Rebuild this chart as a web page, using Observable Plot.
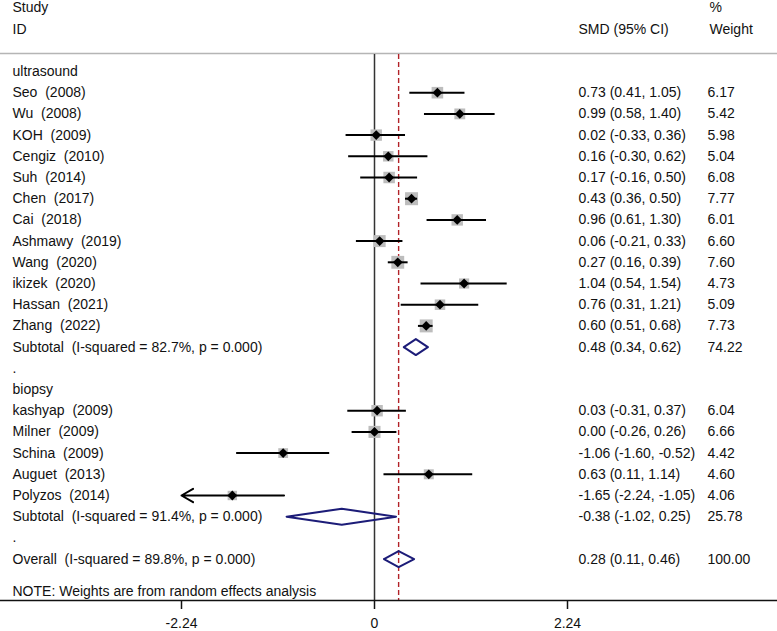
<!DOCTYPE html>
<html><head><meta charset="utf-8">
<script src="https://cdn.jsdelivr.net/npm/d3@7"></script>
<script src="https://cdn.jsdelivr.net/npm/@observablehq/plot@0.6"></script>
<style>
body{margin:0;background:#fff}
svg text{white-space:pre}
</style></head><body><div id="chart"></div>
<script>
// ---- data ----
const usStudy = ["Seo  (2008)","Wu  (2008)","KOH  (2009)","Cengiz  (2010)","Suh  (2014)","Chen  (2017)","Cai  (2018)","Ashmawy  (2019)","Wang  (2020)","ikizek  (2020)","Hassan  (2021)","Zhang  (2022)"];
const usSMD = [0.73,0.99,0.02,0.16,0.17,0.43,0.96,0.06,0.27,1.04,0.76,0.60];
const usLo  = [0.41,0.58,-0.33,-0.30,-0.16,0.36,0.61,-0.21,0.16,0.54,0.31,0.51];
const usHi  = [1.05,1.40,0.36,0.62,0.50,0.50,1.30,0.33,0.39,1.54,1.21,0.68];
const usWeight = [6.17,5.42,5.98,5.04,6.08,7.77,6.01,6.60,7.60,4.73,5.09,7.73];

const bxStudy = ["kashyap  (2009)","Milner  (2009)","Schina  (2009)","Auguet  (2013)","Polyzos  (2014)"];
const bxSMD = [0.03,0.00,-1.06,0.63,-1.65];
const bxLo  = [-0.31,-0.26,-1.60,0.11,-2.24];
const bxHi  = [0.37,0.26,-0.52,1.14,-1.05];
const bxWeight = [6.04,6.66,4.42,4.60,4.06];

const groupNames = ["ultrasound","biopsy"];
const sumLabel = ["Subtotal  (I-squared = 82.7%, p = 0.000)","Subtotal  (I-squared = 91.4%, p = 0.000)","Overall  (I-squared = 89.8%, p = 0.000)"];
const sumSMD = [0.48,-0.38,0.28];
const sumLo  = [0.34,-1.02,0.11];
const sumHi  = [0.62,0.25,0.46];
const sumWeight = [74.22,25.78,100.00];

const headLeft = ["Study","ID"];
const headSMD = ["","SMD (95% CI)"];
const headWeight = ["%","Weight"];
const noteText = ["NOTE: Weights are from random effects analysis"];
const xTicks = [-2.24,0,2.24];

// ---- build rows ----
const rows = [];
function addGroup(name, st, e, lo, hi, w, si){
  rows.push({label:name, type:"head"});
  st.forEach((s,i)=>rows.push({label:s,type:"study",est:e[i],lo:lo[i],hi:hi[i],w:w[i]}));
  rows.push({label:sumLabel[si],type:"sum",est:sumSMD[si],lo:sumLo[si],hi:sumHi[si],w:sumWeight[si],id:si});
  rows.push({label:".",type:"blank"});
}
addGroup(groupNames[0], usStudy, usSMD, usLo, usHi, usWeight, 0);
addGroup(groupNames[1], bxStudy, bxSMD, bxLo, bxHi, bxWeight, 1);
rows.push({label:sumLabel[2],type:"sum",est:sumSMD[2],lo:sumLo[2],hi:sumHi[2],w:sumWeight[2],id:2});
rows.forEach((r,i)=>r.row=i);

const fmt = v => v.toFixed(2);
const valued = rows.filter(r=>r.est!==undefined);
valued.forEach(r=>{ r.ci = `${fmt(r.est)} (${fmt(r.lo)}, ${fmt(r.hi)})`; r.wt = fmt(r.w); });
const studies = rows.filter(r=>r.type==="study");
const xMin = xTicks[0];
const clipped = studies.filter(r=>r.lo<=xMin);
const unclipped = studies.filter(r=>r.lo>xMin);
const sums = rows.filter(r=>r.type==="sum");
const h = 8/21.2;
const diamonds = sums.flatMap(r=>[
  {id:r.id,x:r.lo,y:r.row},{id:r.id,x:r.est,y:r.row-h},{id:r.id,x:r.hi,y:r.row},{id:r.id,x:r.est,y:r.row+h},{id:r.id,x:r.lo,y:r.row}
]);

const txt = "#111";
const chart = Plot.plot({
  width: 777, height: 631,
  marginTop: 0, marginLeft: 0, marginRight: 0, marginBottom: 31,
  style: {fontFamily: "'Liberation Sans', Arial, sans-serif", fontSize: "14px", background: "#fff", color: txt},
  x: {domain: [-2.24, 2.24], range: [181, 567], axis: null},
  y: {domain: [0, 1], range: [71, 92.2], axis: null},
  r: {type: "sqrt", domain: [0, 7.77], range: [0, 13/Math.sqrt(Math.PI)]},
  marks: [
    Plot.ruleY([0], {dy: -18, stroke: "#b5b5b5", strokeWidth: 1.5}),
    Plot.ruleX([0], {insetTop: 54, stroke: "#333", strokeWidth: 1.5}),
    Plot.ruleX([sumSMD[2]], {insetTop: 54, stroke: "#b22228", strokeWidth: 1.4, strokeDasharray: "5,3"}),
    Plot.frame({anchor: "bottom", stroke: "#111", strokeWidth: 1.5}),
    Plot.axisX({ticks: xTicks, tickFormat: d => d === 0 ? "0" : d.toFixed(2), tickSize: 9, tickPadding: 9, fontSize: 14, stroke: "#111", strokeWidth: 1.5, fill: txt}),
    Plot.dot(studies, {x: "est", y: "row", r: "w", symbol: "square", fill: "#bdbdbd", stroke: "none"}),
    Plot.ruleY(unclipped, {x1: "lo", x2: "hi", y: "row", stroke: "#000", strokeWidth: 2}),
    Plot.arrow(clipped, {x1: "hi", x2: "lo", y1: "row", y2: "row", stroke: "#000", strokeWidth: 2, headLength: 10, headAngle: 60}),
    Plot.dot(studies, {x: "est", y: "row", r: 3.9, symbol: "square", rotate: 45, fill: "#000", stroke: "none"}),
    Plot.line(diamonds, {x: "x", y: "y", z: "id", stroke: "#1c1c78", strokeWidth: 2, curve: "linear"}),
    Plot.text(rows, {y: "row", text: "label", frameAnchor: "left", dx: 12, textAnchor: "start", fill: txt}),
    Plot.text(valued, {y: "row", text: "ci", frameAnchor: "left", dx: 578, textAnchor: "start", fill: txt}),
    Plot.text(valued, {y: "row", text: "wt", frameAnchor: "left", dx: 707, textAnchor: "start", fill: txt}),
    Plot.text(headLeft, {y: (d,i) => i - 3, text: d => d, frameAnchor: "left", dx: 12, textAnchor: "start", fill: txt}),
    Plot.text(headSMD, {y: (d,i) => i - 3, text: d => d, frameAnchor: "left", dx: 578, textAnchor: "start", fill: txt}),
    Plot.text(headWeight, {y: (d,i) => i - 3, text: d => d, frameAnchor: "left", dx: 709, textAnchor: "start", fill: txt}),
    Plot.text(noteText, {text: d => d, frameAnchor: "bottom-left", lineAnchor: "middle", dx: 12, dy: -9, textAnchor: "start", fill: txt})
  ]
});
document.getElementById("chart").appendChild(chart);
</script></body></html>
